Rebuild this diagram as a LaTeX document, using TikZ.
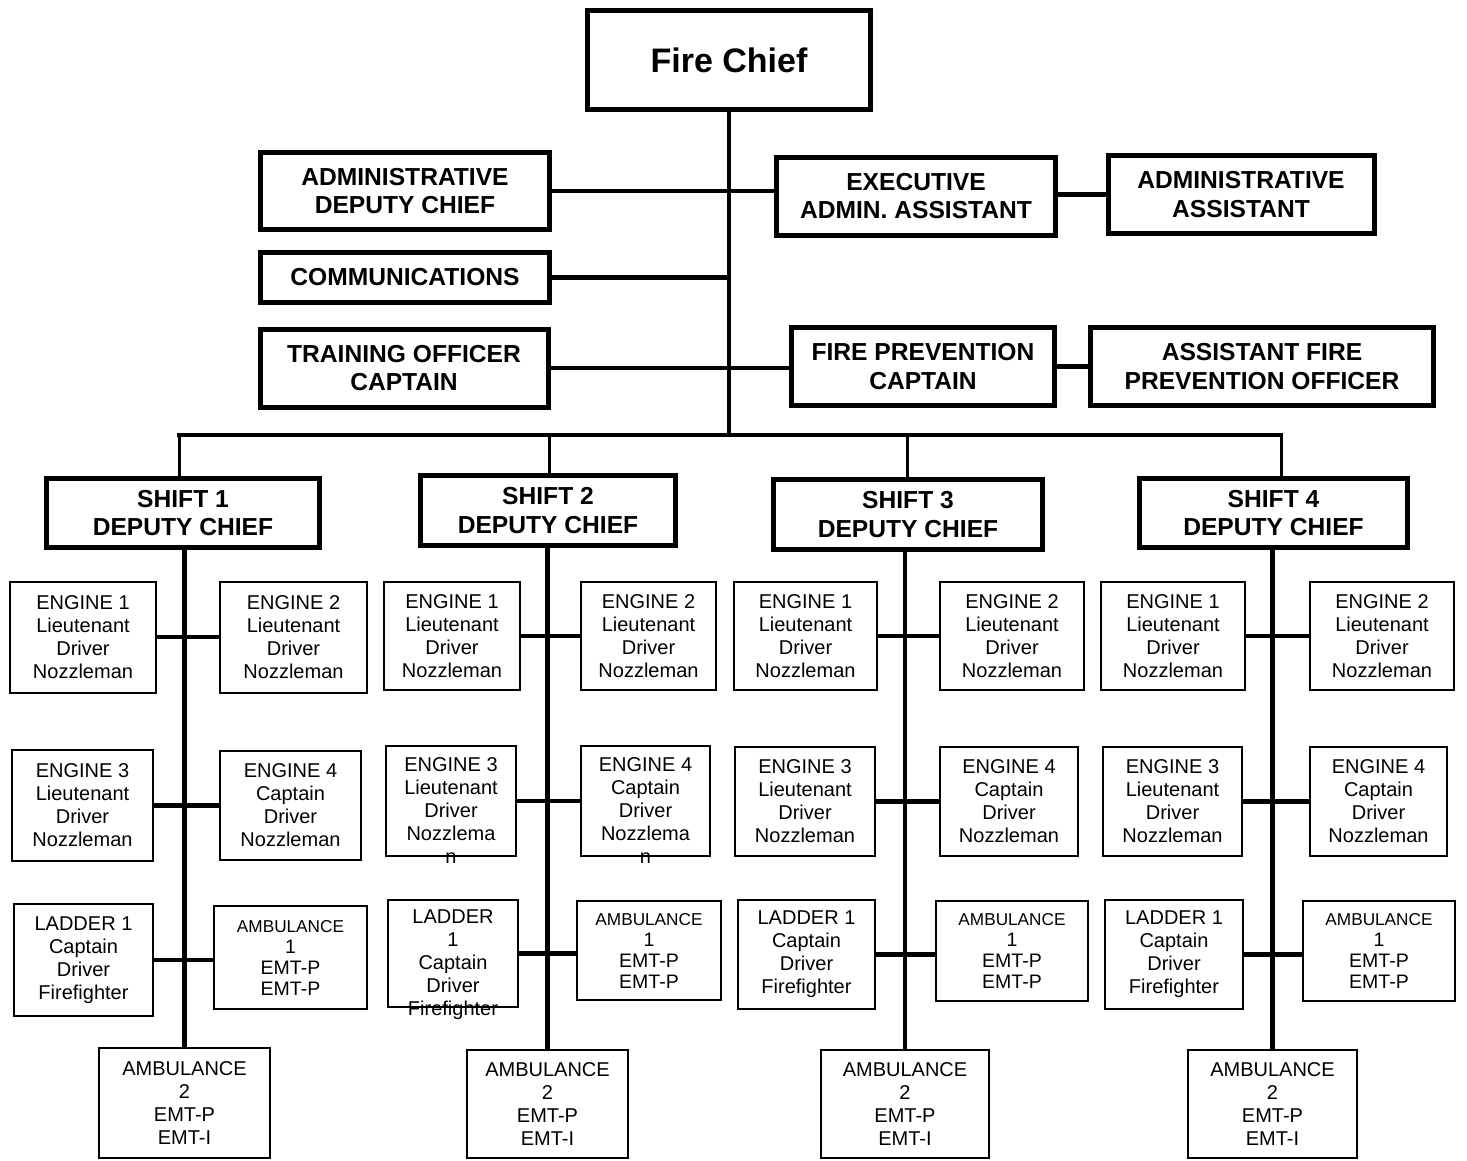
\documentclass[tikz,border=0pt]{standalone}
\usepackage{fontspec}
\setmainfont{Liberation Sans}
\newcommand{\ambtop}{\fontsize{17.2}{21}\selectfont}
\begin{document}
\begin{tikzpicture}[x=1pt,y=-1pt,line join=miter,
  chiefbox/.style={draw,line width=5.5pt,inner sep=0pt,font=\fontsize{34}{40}\selectfont\bfseries},
  headbox/.style={draw,line width=5pt,inner sep=0pt,align=center,font=\fontsize{24.6}{28.5}\selectfont\bfseries},
  unitbox/.style={draw,line width=2pt,inner sep=0pt,align=center,font=\fontsize{20}{23}\selectfont},
  smallunit/.style={unitbox,font=\fontsize{19.5}{21}\selectfont},
  unittext/.style={inner sep=0pt,align=center,font=\fontsize{20}{23}\selectfont},
  link/.style={line width=4.5pt,line cap=rect},
  droplink/.style={line width=3pt},
]
\useasboundingbox (0,0) rectangle (1467,1160);
%%
\node (chief) at (729,60) [chiefbox,minimum width=283pt,minimum height=99pt] {Fire Chief};
  \node (admdep) at (405,191) [headbox,minimum width=289pt,minimum height=77pt] {ADMINISTRATIVE\\DEPUTY CHIEF};
  \node (comms) at (405,277.5) [headbox,minimum width=289pt,minimum height=50pt] {COMMUNICATIONS};
  \node (training) at (404,368) [headbox,minimum width=288pt,minimum height=78pt] {TRAINING OFFICER\\CAPTAIN};
  \node (execasst) at (916,196) [headbox,minimum width=279pt,minimum height=78pt] {EXECUTIVE\\ADMIN. ASSISTANT};
  \node (adminasst) at (1241,194.5) [headbox,minimum width=266pt,minimum height=78pt] {ADMINISTRATIVE\\ASSISTANT};
  \node (fireprev) at (923,366.5) [headbox,minimum width=263pt,minimum height=78pt] {FIRE PREVENTION\\CAPTAIN};
  \node (asstprev) at (1262,366.5) [headbox,minimum width=343pt,minimum height=78pt] {ASSISTANT FIRE\\PREVENTION OFFICER};
%%
  \node (shift1) at (183,513) [headbox,minimum width=273pt,minimum height=69pt] {SHIFT 1\\DEPUTY CHIEF};
  \node (shift2) at (548,510.5) [headbox,minimum width=255pt,minimum height=70pt] {SHIFT 2\\DEPUTY CHIEF};
  \node (shift3) at (908,514.5) [headbox,minimum width=269pt,minimum height=70pt] {SHIFT 3\\DEPUTY CHIEF};
  \node (shift4) at (1273.5,513) [headbox,minimum width=268pt,minimum height=69pt] {SHIFT 4\\DEPUTY CHIEF};
%%
  \node (s1eng1) at (83,637) [unitbox,minimum width=146pt,minimum height=111pt] {ENGINE 1\\Lieutenant\\Driver\\Nozzleman};
  \node (s1eng2) at (293.5,637) [unitbox,minimum width=147pt,minimum height=111pt] {ENGINE 2\\Lieutenant\\Driver\\Nozzleman};
  \node (s1eng3) at (82.5,805.5) [unitbox,minimum width=141pt,minimum height=111pt] {ENGINE 3\\Lieutenant\\Driver\\Nozzleman};
  \node (s1eng4) at (290.5,805) [unitbox,minimum width=141pt,minimum height=109pt] {ENGINE 4\\Captain\\Driver\\Nozzleman};
  \node (s1lad1) at (83.5,960) [unitbox,minimum width=139pt,minimum height=112pt] {LADDER 1\\Captain\\Driver\\Firefighter};
  \node (s1amb1) at (290.5,957.5) [smallunit,minimum width=153pt,minimum height=103pt] {{\ambtop AMBULANCE}\\1\\EMT-P\\EMT-P};
  \node (s1amb2) at (184.5,1103) [unitbox,minimum width=171pt,minimum height=110pt] {AMBULANCE\\2\\EMT-P\\EMT-I};
%
  \node (s2eng1) at (452,636) [unitbox,minimum width=136pt,minimum height=108pt] {ENGINE 1\\Lieutenant\\Driver\\Nozzleman};
  \node (s2eng2) at (648.5,636) [unitbox,minimum width=135pt,minimum height=108pt] {ENGINE 2\\Lieutenant\\Driver\\Nozzleman};
  \node (s2eng3) at (451,801) [unitbox,minimum width=130pt,minimum height=110pt] {};
  \node (s2eng3txt) at (451,811) [unittext] {ENGINE 3\\Lieutenant\\Driver\\Nozzlema\\n};
  \node (s2eng4) at (645.5,801) [unitbox,minimum width=129pt,minimum height=110pt] {};
  \node (s2eng4txt) at (645.5,811) [unittext] {ENGINE 4\\Captain\\Driver\\Nozzlema\\n};
  \node (s2lad1) at (453,953.5) [unitbox,minimum width=130pt,minimum height=107pt] {};
  \node (s2lad1txt) at (453,965) [unittext] {LADDER\\1\\Captain\\Driver\\Firefighter};
  \node (s2amb1) at (649,950.5) [smallunit,minimum width=144pt,minimum height=99pt] {{\ambtop AMBULANCE}\\1\\EMT-P\\EMT-P};
  \node (s2amb2) at (547.5,1104) [unitbox,minimum width=161pt,minimum height=108pt] {AMBULANCE\\2\\EMT-P\\EMT-I};
%
  \node (s3eng1) at (805.5,636) [unitbox,minimum width=143pt,minimum height=108pt] {ENGINE 1\\Lieutenant\\Driver\\Nozzleman};
  \node (s3eng2) at (1012,636) [unitbox,minimum width=144pt,minimum height=108pt] {ENGINE 2\\Lieutenant\\Driver\\Nozzleman};
  \node (s3eng3) at (805,801.5) [unitbox,minimum width=140pt,minimum height=109pt] {ENGINE 3\\Lieutenant\\Driver\\Nozzleman};
  \node (s3eng4) at (1009,801.5) [unitbox,minimum width=138pt,minimum height=109pt] {ENGINE 4\\Captain\\Driver\\Nozzleman};
  \node (s3lad1) at (806.5,954.5) [unitbox,minimum width=137pt,minimum height=109pt] {LADDER 1\\Captain\\Driver\\Firefighter};
  \node (s3amb1) at (1012,951) [smallunit,minimum width=152pt,minimum height=100pt] {{\ambtop AMBULANCE}\\1\\EMT-P\\EMT-P};
  \node (s3amb2) at (905,1104) [unitbox,minimum width=168pt,minimum height=108pt] {AMBULANCE\\2\\EMT-P\\EMT-I};
%
  \node (s4eng1) at (1173,636) [unitbox,minimum width=144pt,minimum height=108pt] {ENGINE 1\\Lieutenant\\Driver\\Nozzleman};
  \node (s4eng2) at (1382,636) [unitbox,minimum width=144pt,minimum height=108pt] {ENGINE 2\\Lieutenant\\Driver\\Nozzleman};
  \node (s4eng3) at (1172.5,801.5) [unitbox,minimum width=139pt,minimum height=109pt] {ENGINE 3\\Lieutenant\\Driver\\Nozzleman};
  \node (s4eng4) at (1378.5,801.5) [unitbox,minimum width=137pt,minimum height=109pt] {ENGINE 4\\Captain\\Driver\\Nozzleman};
  \node (s4lad1) at (1174,954.5) [unitbox,minimum width=138pt,minimum height=109pt] {LADDER 1\\Captain\\Driver\\Firefighter};
  \node (s4amb1) at (1379,951) [smallunit,minimum width=152pt,minimum height=100pt] {{\ambtop AMBULANCE}\\1\\EMT-P\\EMT-P};
  \node (s4amb2) at (1272.5,1104) [unitbox,minimum width=169pt,minimum height=108pt] {AMBULANCE\\2\\EMT-P\\EMT-I};
%%
  \coordinate (bus1) at (179,435);
  \coordinate (bus2) at (549,435);
  \coordinate (bus3) at (907,435);
  \coordinate (bus4) at (1281,435);
  \draw [link] (chief.south) -- (chief.south |- bus1);
  \draw [link] (bus1) -- (bus4);
  \draw [link] (admdep.east) -- (admdep.east -| execasst.west);
  \draw [link] (comms.east) -- (comms.east -| chief.south);
  \draw [link] (training.east) -- (training.east -| fireprev.west);
  \draw [link] (adminasst.west -| execasst.east) -- (adminasst.west);
  \draw [link] (fireprev.east) -- (asstprev.west);
  \draw [droplink] (bus1) -- (bus1 |- shift1.north);
  \draw [droplink] (bus2) -- (bus2 |- shift2.north);
  \draw [droplink] (bus3) -- (bus3 |- shift3.north);
  \draw [droplink] (bus4) -- (bus4 |- shift4.north);
%
  \draw [link] (s1amb2.north |- shift1.south) -- (s1amb2.north);
  \draw [link] (s1eng1.east) -- (s1eng1.east -| s1eng2.west);
  \draw [link] (s1eng3.east) -- (s1eng3.east -| s1eng4.west);
  \draw [link] (s1lad1.east) -- (s1lad1.east -| s1amb1.west);
  \draw [link] (s2amb2.north |- shift2.south) -- (s2amb2.north);
  \draw [link] (s2eng1.east) -- (s2eng1.east -| s2eng2.west);
  \draw [link] (s2eng3.east) -- (s2eng3.east -| s2eng4.west);
  \draw [link] (s2lad1.east) -- (s2lad1.east -| s2amb1.west);
  \draw [link] (s3amb2.north |- shift3.south) -- (s3amb2.north);
  \draw [link] (s3eng1.east) -- (s3eng1.east -| s3eng2.west);
  \draw [link] (s3eng3.east) -- (s3eng3.east -| s3eng4.west);
  \draw [link] (s3lad1.east) -- (s3lad1.east -| s3amb1.west);
  \draw [link] (s4amb2.north |- shift4.south) -- (s4amb2.north);
  \draw [link] (s4eng1.east) -- (s4eng1.east -| s4eng2.west);
  \draw [link] (s4eng3.east) -- (s4eng3.east -| s4eng4.west);
  \draw [link] (s4lad1.east) -- (s4lad1.east -| s4amb1.west);
%
\end{tikzpicture}
\end{document}
